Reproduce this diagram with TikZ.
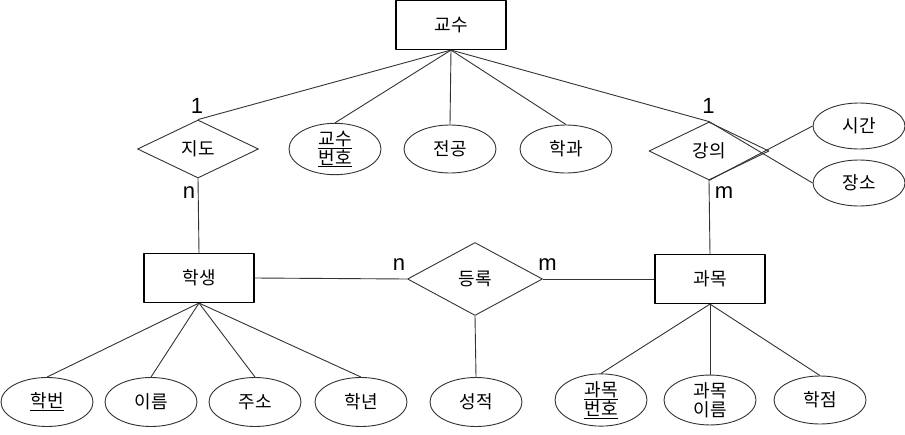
\documentclass[tikz,border=0pt]{standalone}
\usepackage{fontspec}
\setmainfont{Liberation Sans}
\newfontfamily\krfont{Noto Sans CJK KR}
\usetikzlibrary{shapes.geometric}

\definecolor{erline}{HTML}{333333}

\tikzset{
  entity/.style={draw=black,line width=1.1pt,rectangle,minimum width=110pt,minimum height=49pt,
    inner sep=0pt,font=\krfont\fontsize{18}{22}\selectfont},
  relation/.style={draw=erline,line width=0.9pt,diamond,inner sep=0pt,
    font=\krfont\fontsize{18}{22}\selectfont},
  attr/.style={draw=erline,line width=0.9pt,ellipse,minimum width=92pt,minimum height=48pt,
    inner sep=0pt,align=center,font=\krfont\fontsize{18}{22}\selectfont},
  card/.style={anchor=base,inner sep=0pt,font=\fontsize{22}{24}\selectfont},
  link/.style={draw=erline,line width=0.9pt},
}

\begin{document}
\begin{tikzpicture}[x=1pt,y=-1pt,line join=round]
  % Keep the frame of the original drawing.
  \useasboundingbox (0,0) rectangle (905,434);

  % Entities.
  \node[entity] (gyosu) at (451,25) {교수};
  \node[entity] (haksaeng) at (199,278) {학생};
  \node[entity] (gwamok) at (710,279) {과목};

  % Relationships.
  \node[relation,minimum width=121pt,minimum height=58pt] (jido) at (198,149) {지도};
  \node[relation,minimum width=120pt,minimum height=58pt] (gangui) at (709,151) {강의};
  \node[relation,minimum width=135pt,minimum height=73pt] (deungrok) at (475,279) {등록};

  % Attributes of the professor.
  \node[attr] (gyosubeonho) at (335,149) {\underline{교수}\\[-3pt]\underline{번호}};
  \node[attr] (jeongong) at (450,149) {전공};
  \node[attr] (hakgwa) at (566,149) {학과};

  % Attributes of the lecture.
  \node[attr,minimum height=46pt] (sigan) at (859,126) {시간};
  \node[attr,minimum height=46pt] (jangso) at (859,183) {장소};

  % Attributes of the student.
  \node[attr,minimum height=49pt] (hakbeon) at (47,402) {\underline{학번}};
  \node[attr,minimum height=49pt] (ireum) at (151,402) {이름};
  \node[attr,minimum height=49pt] (juso) at (255,402) {주소};
  \node[attr,minimum height=49pt] (haknyeon) at (361,402) {학년};
  \node[attr,minimum height=49pt] (seongjeok) at (476,402) {성적};

  % Attributes of the course.
  \node[attr] (gwamokbeonho) at (601,400) {\underline{과목}\\[-3pt]\underline{번호}};
  \node[attr] (gwamogireum) at (710,400) {과목\\[-3pt]이름};
  \node[attr] (hakjeom) at (820,400) {학점};

  % Cardinalities.
  \node[card] (jido1) at (197,113) {1};
  \node[card] (jidon) at (189,198) {n};
  \node[card] (gangui1) at (708.5,113) {1};
  \node[card] (ganguim) at (724,198) {m};
  \node[card] (deungrokn) at (399,270) {n};
  \node[card] (deungrokm) at (547.5,270) {m};

  % Connectors.
  \draw[link] (gyosu.south) -- (jido.north);
  \draw[link] (gyosu.south) -- (gyosubeonho.north);
  \draw[link] (gyosu.south) -- (jeongong.north);
  \draw[link] (gyosu.south) -- (hakgwa.north);
  \draw[link] (gyosu.south) -- (gangui.north);
  \draw[link] (jido.south) -- (haksaeng.north);
  \draw[link] (gangui.south) -- (gwamok.north);
  \draw[link] (gangui.north) -- (jangso.west);
  \draw[link] (gangui.south) -- (sigan.west);
  \draw[link] (haksaeng.east) -- (deungrok.west);
  \draw[link] (deungrok.east) -- (gwamok.west);
  \draw[link] (deungrok.south) -- (seongjeok.north);
  \foreach \a in {hakbeon,ireum,juso,haknyeon} {
    \draw[link] (haksaeng.south) -- (\a.north);
  }
  \foreach \a in {gwamokbeonho,gwamogireum,hakjeom} {
    \draw[link] (gwamok.south) -- (\a.north);
  }
\end{tikzpicture}
\end{document}
